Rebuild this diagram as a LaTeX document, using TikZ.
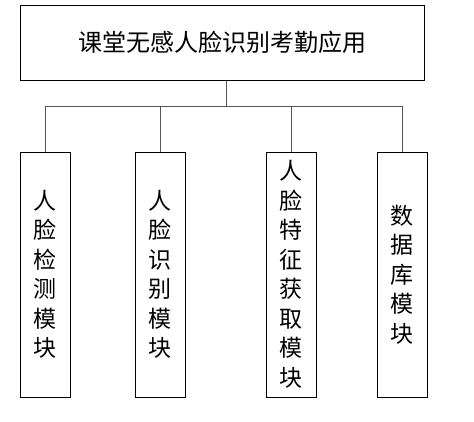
\documentclass[tikz,border=0pt]{standalone}
\usepackage{fontspec}
\newfontfamily\cjk{Noto Sans CJK SC}
\usepackage{tikz}
\usetikzlibrary{positioning}
\definecolor{linegray}{HTML}{555555}

\begin{document}
\begin{tikzpicture}[x=1pt, y=1pt, node distance=60pt, line width=1pt]
  \useasboundingbox (0,0) rectangle (474,-421);
  \tikzset{
    topbox/.style={draw, minimum width=404pt, minimum height=75pt, inner sep=0pt,
      font=\cjk\fontsize{24pt}{28pt}\selectfont},
    modbox/.style={draw, minimum width=50pt, minimum height=245pt, inner sep=0pt,
      align=center, font=\cjk\fontsize{23pt}{29.5pt}\selectfont},
  }
  \node[topbox] (app) at (222,-42.5) {课堂无感人脸识别考勤应用};
  \node[modbox] (det) at (45,-274.5) {人\\脸\\检\\测\\模\\块};
  \node[modbox, right=64pt of det] (rec) {人\\脸\\识\\别\\模\\块};
  \node[modbox, right=80pt of rec] (feat) {人\\脸\\特\\征\\获\\取\\模\\块};
  \node[modbox, right=60pt of feat] (db) {数\\据\\库\\模\\块};
  % tree lines
  \coordinate (bus) at ([xshift=4pt, yshift=-26pt]app.south);
  \draw[linegray] ([xshift=4pt]app.south) -- (bus);
  \draw[linegray] (det.north) -- (det.north |- bus) -- (db.north |- bus) -- (db.north);
  \draw[linegray] (rec.north) -- (rec.north |- bus);
  \draw[linegray] (feat.north) -- (feat.north |- bus);
\end{tikzpicture}
\end{document}
